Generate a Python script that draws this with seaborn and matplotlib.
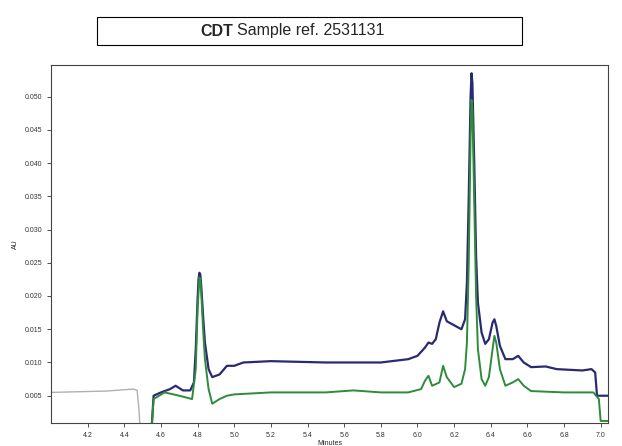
import numpy as np
import pandas as pd
import matplotlib.pyplot as plt
import seaborn as sns
from matplotlib.patches import Rectangle

# chromatogram values (minutes, AU)
blue_t = [4.55, 4.56, 4.60, 4.65, 4.68, 4.72, 4.76, 4.78, 4.79, 4.80, 4.805, 4.81, 4.815, 4.82, 4.83, 4.84,
          4.86, 4.88, 4.92, 4.96, 5.00, 5.05, 5.20, 5.50, 5.80, 5.95, 6.00, 6.04, 6.06, 6.08, 6.10, 6.12,
          6.14, 6.16, 6.20, 6.24, 6.26, 6.27, 6.28, 6.29, 6.295, 6.30, 6.31, 6.32, 6.33, 6.35, 6.37, 6.39,
          6.41, 6.42, 6.43, 6.45, 6.48, 6.52, 6.55, 6.58, 6.62, 6.70, 6.76, 6.90, 6.95, 6.97, 6.98, 7.00, 7.04]
blue_au = [0.0005, 0.005, 0.0055, 0.006, 0.0065, 0.0058, 0.0058, 0.0070, 0.0120, 0.0195, 0.0225, 0.0235,
           0.0232, 0.0215, 0.0170, 0.0130, 0.0090, 0.0078, 0.0082, 0.0095, 0.0095, 0.0100, 0.0102, 0.0100,
           0.0100, 0.0105, 0.0110, 0.0122, 0.0130, 0.0128, 0.0135, 0.0160, 0.0177, 0.0162, 0.0156, 0.0150,
           0.0165, 0.0220, 0.0350, 0.0500, 0.0535, 0.0520, 0.0400, 0.0260, 0.0190, 0.0145, 0.0128, 0.0135,
           0.0160, 0.0165, 0.0155, 0.0125, 0.0105, 0.0105, 0.0110, 0.0100, 0.0093, 0.0094, 0.0090, 0.0088,
           0.0090, 0.0085, 0.0050, 0.0050, 0.0050]

green_t = [4.55, 4.56, 4.62, 4.70, 4.77, 4.79, 4.80, 4.81, 4.815, 4.82, 4.83, 4.84, 4.86, 4.88, 4.92, 4.96,
           5.00, 5.20, 5.50, 5.65, 5.80, 5.95, 6.02, 6.04, 6.06, 6.08, 6.12, 6.14, 6.16, 6.20, 6.24, 6.26,
           6.27, 6.28, 6.29, 6.295, 6.30, 6.31, 6.32, 6.33, 6.35, 6.37, 6.39, 6.41, 6.42, 6.43, 6.45, 6.48,
           6.52, 6.55, 6.58, 6.62, 6.80, 6.96, 6.99, 7.00, 7.04]
green_au = [0.0005, 0.0045, 0.0055, 0.0050, 0.0045, 0.0090, 0.0180, 0.0228, 0.0225, 0.0205, 0.0150, 0.0105,
            0.0060, 0.0038, 0.0045, 0.0050, 0.0052, 0.0055, 0.0055, 0.0058, 0.0055, 0.0055, 0.0060, 0.0072,
            0.0080, 0.0065, 0.0070, 0.0095, 0.0078, 0.0063, 0.0068, 0.0090, 0.0130, 0.0250, 0.0440, 0.0495,
            0.0480, 0.0340, 0.0200, 0.0120, 0.0075, 0.0065, 0.0078, 0.0120, 0.0140, 0.0130, 0.0090, 0.0065,
            0.0070, 0.0075, 0.0065, 0.0057, 0.0055, 0.0055, 0.0045, 0.0012, 0.0012]

gray_t = [4.00, 4.30, 4.45, 4.47, 4.48, 4.485]
gray_au = [0.0055, 0.0057, 0.0060, 0.0058, 0.0030, 0.0005]

y_ticks = [0.005, 0.010, 0.015, 0.020, 0.025, 0.030, 0.035, 0.040, 0.045, 0.050]
x_ticks = [4.2, 4.4, 4.6, 4.8, 5.0, 5.2, 5.4, 5.6, 5.8, 6.0, 6.2, 6.4, 6.6, 6.8, 7.0]

sns.set_style("ticks")
plt.rcParams['font.family'] = ['Liberation Sans', 'DejaVu Sans']
fig = plt.figure(figsize=(6.22, 4.46), dpi=100)
ax = fig.add_axes([0.082, 0.0516, 0.8955, 0.802])

sns.lineplot(x=gray_t, y=gray_au, ax=ax, color="#b0b0b0", lw=1.0, sort=False)
sns.lineplot(x=blue_t, y=blue_au, ax=ax, color="#2a2a72", lw=1.6, sort=False)
sns.lineplot(x=green_t, y=green_au, ax=ax, color="#2e8b3a", lw=1.4, sort=False)

ax.set_xlim(4.0, 7.04)
ax.set_ylim(0.0009, 0.0547)
ax.set_xticks(x_ticks)
ax.set_xticklabels([f"{v:.1f}" for v in x_ticks])
ax.set_yticks(y_ticks)
ax.set_yticklabels([f"{v:.3f}" for v in y_ticks])
ax.tick_params(labelsize=5, length=3, width=0.6, colors="#333333")
ax.set_xlabel("Minutes", fontsize=5, labelpad=1)
ax.set_ylabel("AU", fontsize=5)
for s in ax.spines.values():
    s.set_linewidth(0.8)
    s.set_color("#444444")

fig.patches.append(Rectangle((97 / 622, 1 - 45 / 446), 425 / 622, 28 / 446, transform=fig.transFigure,
                             facecolor="white", edgecolor="black", lw=0.8))
fig.text(0.375, 1 - 31 / 446, "CDT", fontsize=11.5, fontweight="bold", ha="right", va="center")
fig.text(0.381, 1 - 31 / 446, "Sample ref. 2531131", fontsize=11.5, ha="left", va="center")

fig.savefig("out.png", dpi=100)
